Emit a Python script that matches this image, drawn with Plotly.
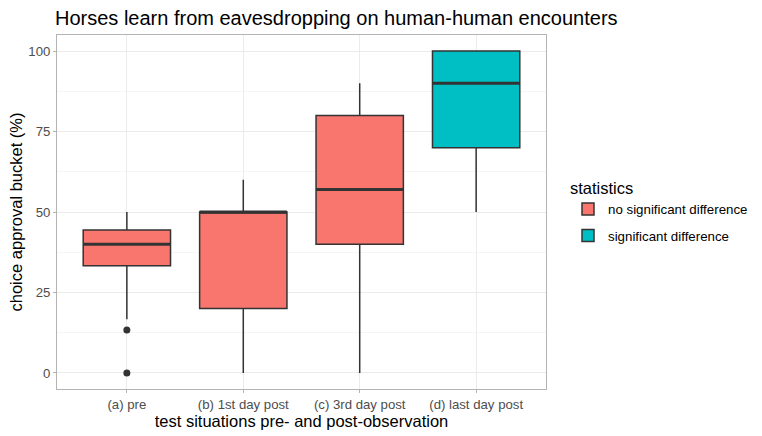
import plotly.graph_objects as go

categories = ["(a) pre", "(b) 1st day post", "(c) 3rd day post", "(d) last day post"]
groups = ["no significant difference", "no significant difference", "no significant difference", "significant difference"]
q1 = [33.3, 20, 40, 70]
median = [40, 50, 57, 90]
q3 = [44.4, 50, 80, 100]
lower = [16.7, 0, 0, 50]
upper = [50, 60, 90, 100]
outlier_cat = [0, 0]
outlier_val = [13.3, 0]

colors = {"no significant difference": "#F8766D", "significant difference": "#00BFC4"}
box_w = 0.75
font = "Liberation Sans, Arial, sans-serif"

fig = go.Figure()
for g in ["no significant difference", "significant difference"]:
    idx = [i for i, gg in enumerate(groups) if gg == g]
    fig.add_trace(go.Box(
        x=idx, q1=[q1[i] for i in idx], median=[median[i] for i in idx],
        q3=[q3[i] for i in idx], lowerfence=[lower[i] for i in idx],
        upperfence=[upper[i] for i in idx],
        name=g, legendgroup=g, fillcolor=colors[g], line=dict(color="#333333", width=1.5),
        width=box_w, whiskerwidth=0, boxpoints=False, hoverinfo="skip",
    ))

# thicker median lines
mx, my = [], []
for i, m in enumerate(median):
    mx += [i - box_w / 2, i + box_w / 2, None]
    my += [m, m, None]
fig.add_trace(go.Scatter(x=mx, y=my, mode="lines", line=dict(color="#333333", width=3),
                         showlegend=False, hoverinfo="skip"))

fig.add_trace(go.Scatter(x=outlier_cat, y=outlier_val, mode="markers",
                         marker=dict(color="#333333", size=7), showlegend=False, hoverinfo="skip"))

fig.update_layout(
    width=762, height=436, plot_bgcolor="white", paper_bgcolor="white",
    margin=dict(l=57, r=216, t=35, b=47, autoexpand=False),
    boxmode="overlay",
    font=dict(family=font, color="#000000"),
    title=dict(text="Horses learn from eavesdropping on human-human encounters",
               x=55/762, xanchor="left", y=1 - 18/436, yanchor="middle",
               font=dict(size=20, color="#000000")),
    legend=dict(title=dict(text="statistics", font=dict(size=16.5)),
                x=1.045, xanchor="left", y=0.5, yanchor="middle",
                font=dict(size=13.3), tracegroupgap=6),
    xaxis=dict(range=[-0.6, 3.6], tickvals=list(range(len(categories))), ticktext=categories,
               showgrid=True, gridcolor="#EBEBEB", gridwidth=1,
               showline=True, linecolor="#B3B3B3", mirror=True, linewidth=1,
               ticks="outside", ticklen=3, tickcolor="#B3B3B3",
               tickfont=dict(size=13.2, color="#4D4D4D"), zeroline=False,
               title=dict(text="test situations pre- and post-observation", font=dict(size=16.5), standoff=0)),
    yaxis=dict(range=[-5, 105], tickvals=[0, 25, 50, 75, 100],
               showgrid=True, gridcolor="#EBEBEB", gridwidth=1,
               minor=dict(tickvals=[12.5, 37.5, 62.5, 87.5], showgrid=True, gridcolor="#F5F5F5", gridwidth=1),
               showline=True, linecolor="#B3B3B3", mirror=True, linewidth=1,
               ticks="outside", ticklen=3, tickcolor="#B3B3B3",
               tickfont=dict(size=13.2, color="#4D4D4D"), zeroline=False,
               title=dict(text="choice approval bucket (%)", font=dict(size=16.5), standoff=1)),
)

fig.write_html("out.html")
